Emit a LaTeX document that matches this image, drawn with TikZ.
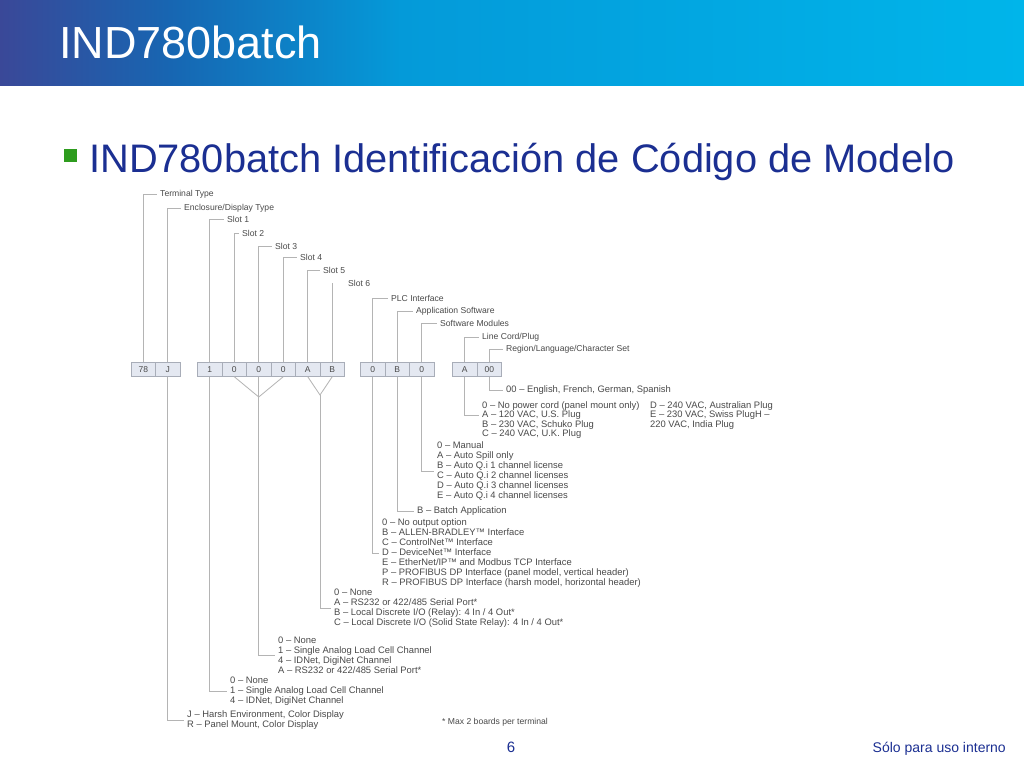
\documentclass[tikz,border=0pt]{standalone}
\usepackage{fontspec}
\setmainfont{Liberation Sans}
\usetikzlibrary{calc}
\definecolor{hdrA}{HTML}{3A4898}
\definecolor{hdrB}{HTML}{1766B2}
\definecolor{hdrC}{HTML}{049AD9}
\definecolor{hdrD}{HTML}{00B5EA}
\definecolor{navy}{HTML}{1B2F92}
\definecolor{bulletGreen}{HTML}{2E9C1E}
\definecolor{lineGray}{HTML}{B4B4B4}
\definecolor{cellBorder}{HTML}{A8ADB8}
\definecolor{cellFill}{HTML}{E4E8F1}
\definecolor{txtGray}{HTML}{4A4A4A}
\begin{document}
\begin{tikzpicture}[x=1pt,y=-1pt,
  wire/.style={draw=lineGray, line width=0.8pt},
  cell/.style={draw=cellBorder, fill=cellFill, minimum width=24.5pt, minimum height=14.5pt, inner sep=0pt, font=\fontsize{8.5}{9}\selectfont, text=txtGray},
  toplbl/.style={anchor=west, inner xsep=3pt, inner ysep=0pt, font=\fontsize{8.6}{9}\selectfont, text=txtGray},
  blk/.style={anchor=west, align=left, inner xsep=3pt, inner ysep=0pt, font=\fontsize{9.4}{9.9}\selectfont, text=txtGray},
  blkT/.style={blk, font=\fontsize{9.4}{9.4}\selectfont},
]
\useasboundingbox (0,0) rectangle (1024,768);
\fill[white] (0,0) rectangle (1024,768);
% header
\shade[left color=hdrA, right color=hdrB] (0,0) rectangle (171,85);
\shade[left color=hdrB, right color=hdrC] (170,0) rectangle (401,85);
\shade[left color=hdrC, right color=hdrD] (400,0) rectangle (1024,85);
\node[anchor=base west, inner sep=0pt, text=white, font=\fontsize{45}{50}\selectfont] (title) at (59,59) {IND780batch};
% bullet line
\node[fill=bulletGreen, minimum size=13pt, inner sep=0pt] (bul) at (70.5,155) {};
\node[anchor=base west, inner sep=0pt, text=navy, font=\fontsize{39.8}{45}\selectfont] (sub) at (89,172) {IND780batch Identificación de Código de Modelo};

% code cells
\node[cell] (t1) at (143.25,369.25) {78};
\node[cell] (t2) at (167.75,369.25) {J};
\node[cell] (s1) at (209.75,369.25) {1};
\node[cell] (s2) at (234.25,369.25) {0};
\node[cell] (s3) at (258.75,369.25) {0};
\node[cell] (s4) at (283.25,369.25) {0};
\node[cell] (s5) at (307.75,369.25) {A};
\node[cell] (s6) at (332.25,369.25) {B};
\node[cell] (p1) at (372.75,369.25) {0};
\node[cell] (p2) at (397.25,369.25) {B};
\node[cell] (p3) at (421.75,369.25) {0};
\node[cell] (r1) at (464.75,369.25) {A};
\node[cell] (r2) at (489.25,369.25) {00};

% top labels
\node[toplbl] (lT) at (157,194) {Terminal Type};
\node[toplbl] (lE) at (181,208) {Enclosure/Display Type};
\node[toplbl] (l1) at (224,219) {Slot 1};
\node[toplbl] (l2) at (239,233) {Slot 2};
\node[toplbl] (l3) at (272,246) {Slot 3};
\node[toplbl] (l4) at (297,257) {Slot 4};
\node[toplbl] (l5) at (320,270) {Slot 5};
\node[toplbl] (l6) at (345,283) {Slot 6};
\node[toplbl] (lP) at (388,298) {PLC Interface};
\node[toplbl] (lA) at (413,311) {Application Software};
\node[toplbl] (lS) at (437,323) {Software Modules};
\node[toplbl] (lL) at (479,337) {Line Cord/Plug};
\node[toplbl] (lR) at (503,349) {Region/Language/Character Set};

\draw[wire] (t1.north) |- (lT.west);
\draw[wire] (t2.north) |- (lE.west);
\draw[wire] (s1.north) |- (l1.west);
\draw[wire] (s2.north) |- (l2.west);
\draw[wire] (s3.north) |- (l3.west);
\draw[wire] (s4.north) |- (l4.west);
\draw[wire] (s5.north) |- (l5.west);
\draw[wire] (s6.north) -- (s6.north |- l6.west);
\draw[wire] (p1.north) |- (lP.west);
\draw[wire] (p2.north) |- (lA.west);
\draw[wire] (p3.north) |- (lS.west);
\draw[wire] (r1.north) |- (lL.west);
\draw[wire] (r2.north) |- (lR.west);

% bottom blocks
\node[blk] (bR) at (503,390) {00 -- English, French, German, Spanish};
\node[blkT] (bL) at (479,420) {0 -- No power cord (panel mount only)\\A -- 120 VAC, U.S. Plug\\B -- 230 VAC, Schuko Plug\\C -- 240 VAC, U.K. Plug};
\node[blkT] (bL2) at (647,415.5) {D -- 240 VAC, Australian Plug\\E -- 230 VAC, Swiss PlugH --\\220 VAC, India Plug};
\node[blk] (bS) at (434,471) {0 -- Manual\\A -- Auto Spill only\\B -- Auto Q.i 1 channel license\\C -- Auto Q.i 2 channel licenses\\D -- Auto Q.i 3 channel licenses\\E -- Auto Q.i 4 channel licenses};
\node[blk] (bA) at (414,511) {B -- Batch Application};
\node[blk] (bP) at (379,553) {0 -- No output option\\B -- ALLEN-BRADLEY™ Interface\\C -- ControlNet™ Interface\\D -- DeviceNet™ Interface\\E -- EtherNet/IP™ and Modbus TCP Interface\\P -- PROFIBUS DP Interface (panel model, vertical header)\\R -- PROFIBUS DP Interface (harsh model, horizontal header)};
\node[blk] (b56) at (331,608.5) {0 -- None\\A -- RS232 or 422/485 Serial Port*\\B -- Local Discrete I/O (Relay): 4 In / 4 Out*\\C -- Local Discrete I/O (Solid State Relay): 4 In / 4 Out*};
\node[blk] (b24) at (275,655) {0 -- None\\1 -- Single Analog Load Cell Channel\\4 -- IDNet, DigiNet Channel\\A -- RS232 or 422/485 Serial Port*};
\node[blk] (b1) at (227,691.5) {0 -- None\\1 -- Single Analog Load Cell Channel\\4 -- IDNet, DigiNet Channel};
\node[blk] (bJ) at (184,720) {J -- Harsh Environment, Color Display\\R -- Panel Mount, Color Display};
\node[anchor=west, inner sep=0pt, font=\fontsize{8.6}{9}\selectfont, text=txtGray] (note) at (442,722) {* Max 2 boards per terminal};

\draw[wire] (r2.south) |- (bR.west);
\draw[wire] (r1.south) |- ([yshift=5pt]bL.west);
\draw[wire] (p3.south) |- (bS.west);
\draw[wire] (p2.south) |- (bA.west);
\draw[wire] (p1.south) |- (bP.west);
\coordinate (v2) at (320,395);
\draw[wire] (s5.south) -- (v2) -- (s6.south);
\draw[wire] (v2) |- (b56.west);
\coordinate (v1) at (258.75,397);
\draw[wire] (s2.south) -- (v1) -- (s4.south);
\draw[wire] (s3.south) |- (b24.west);
\draw[wire] (s1.south) |- (b1.west);
\draw[wire] (t2.south) |- (bJ.west);

% footer
\node[anchor=base, inner sep=0pt, text=navy, font=\fontsize{15}{18}\selectfont] (pg) at (511,752) {6};
\node[anchor=base east, inner sep=0pt, text=navy, font=\fontsize{14}{17}\selectfont] (ft) at (1006,752) {Sólo para uso interno};
\end{tikzpicture}
\end{document}
